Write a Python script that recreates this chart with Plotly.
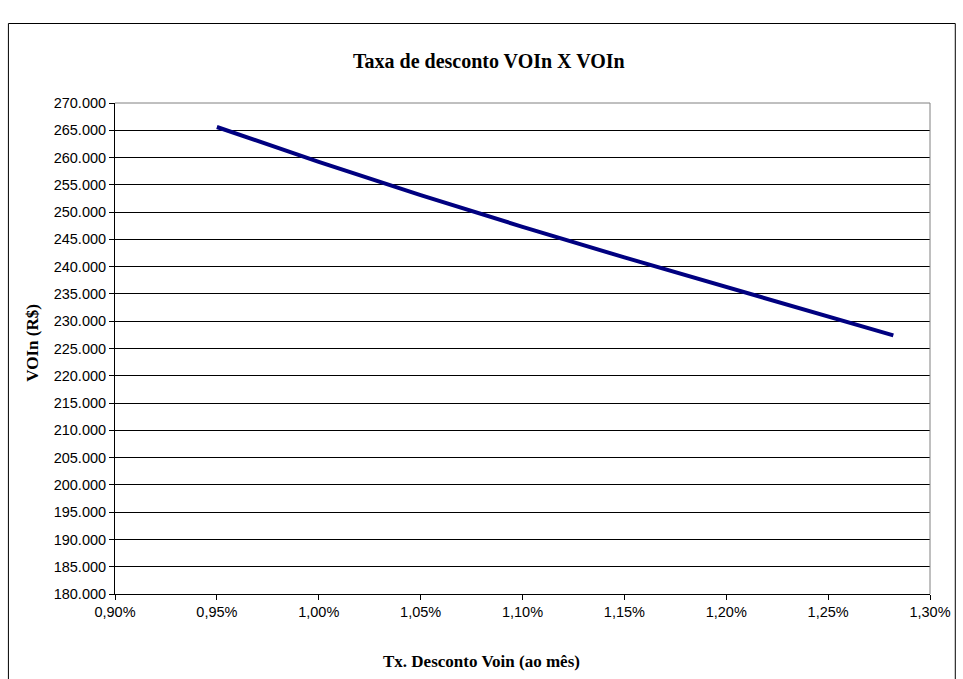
import plotly.graph_objects as go

# Monthly discount rate (fraction) and the resulting VOIn (R$)
taxas = [0.0095, 0.0100, 0.0105, 0.0110, 0.0115, 0.0120, 0.0125, 0.01282]
voin = [265600, 259200, 253100, 247300, 241700, 236300, 230900, 227400]

titulo = "Taxa de desconto VOIn X VOIn"
titulo_x = "Tx. Desconto Voin (ao mês)"
titulo_y = "VOIn (R$)"

W, H = 963, 679
L, R, T, B = 115, 26, 103, 85
pw, ph = W - L - R, H - T - B


def px_x(p):
    return (p - L) / pw


def px_y(p):
    return (H - B - p) / ph


fig = go.Figure()
fig.add_trace(go.Scatter(
    x=taxas, y=voin, mode="lines",
    line=dict(color="#000080", width=4),
    hoverinfo="skip", showlegend=False,
))

tick_font = dict(family="Liberation Sans, Arial, sans-serif", size=14.5, color="#000000")
serif_bold = "Liberation Serif, Times New Roman, serif"

fig.update_layout(
    width=W, height=H,
    margin=dict(l=L, r=R, t=T, b=B, pad=0),
    paper_bgcolor="white", plot_bgcolor="white",
    separators=",.",
    xaxis=dict(
        range=[0.009, 0.013], dtick=0.0005, tick0=0.009, tickformat=".2%",
        showgrid=False, zeroline=False,
        showline=True, linecolor="#000000", linewidth=1,
        ticks="outside", ticklen=5, tickcolor="#000000", tickwidth=1,
        tickfont=tick_font,
    ),
    yaxis=dict(
        range=[180000, 270000], dtick=5000, tick0=180000, tickformat=",d",
        showgrid=True, gridcolor="#000000", gridwidth=1, zeroline=False,
        showline=True, linecolor="#000000", linewidth=1,
        ticks="outside", ticklen=5, tickcolor="#000000", tickwidth=1,
        tickfont=tick_font,
    ),
)

# Plot-area frame (top and right edges) in gray
fig.add_shape(type="line", xref="paper", yref="paper", x0=0, x1=1, y0=1, y1=1,
              line=dict(color="#808080", width=1))
fig.add_shape(type="line", xref="paper", yref="paper", x0=1, x1=1, y0=0, y1=1,
              line=dict(color="#808080", width=1))

# Chart-area border
fig.add_shape(type="rect", xref="paper", yref="paper",
              x0=px_x(7.5), x1=px_x(962.5), y0=px_y(700), y1=px_y(23.5),
              line=dict(color="#000000", width=1), fillcolor="rgba(0,0,0,0)",
              layer="below")

fig.add_annotation(text="<b>" + titulo + "</b>", xref="paper", yref="paper",
                   x=px_x(492), y=px_y(61), showarrow=False,
                   xanchor="center", yanchor="middle",
                   font=dict(family=serif_bold, size=20, color="#000000"))
fig.add_annotation(text="<b>" + titulo_x + "</b>", xref="paper", yref="paper",
                   x=px_x(485), y=px_y(661), showarrow=False,
                   xanchor="center", yanchor="middle",
                   font=dict(family=serif_bold, size=17, color="#000000"))
fig.add_annotation(text="<b>" + titulo_y + "</b>", xref="paper", yref="paper",
                   x=px_x(31), y=px_y(343), showarrow=False, textangle=-90,
                   xanchor="center", yanchor="middle",
                   font=dict(family=serif_bold, size=17, color="#000000"))

fig.write_html("out.html")
